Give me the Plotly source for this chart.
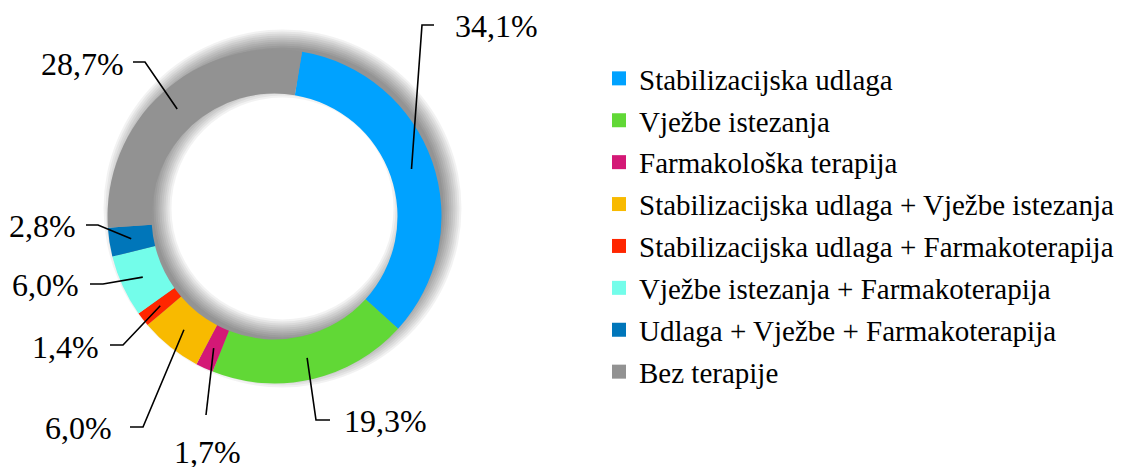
import math
import plotly.graph_objects as go

# data
categories = [
    "Stabilizacijska udlaga",
    "Vježbe istezanja",
    "Farmakološka terapija",
    "Stabilizacijska udlaga + Vježbe istezanja",
    "Stabilizacijska udlaga + Farmakoterapija",
    "Vježbe istezanja + Farmakoterapija",
    "Udlaga + Vježbe + Farmakoterapija",
    "Bez terapije",
]
percent = [34.1, 19.3, 1.7, 6.0, 1.4, 6.0, 2.8, 28.7]
colors = ["#00A2FF", "#61D836", "#D41876", "#F8BA00",
          "#FF2600", "#73FDEA", "#0076BA", "#929292"]

PAD = 8                    # page body margin
W, H = 1126 - PAD, 467 - PAD
CX, CY = 274.5, 216.5      # ring centre (screen px)
R_OUT, R_IN = 167.0, 123.0
ROT = 9.5                  # first slice starts 9.5 deg clockwise from 12 o'clock
FONT = "Times New Roman, Liberation Serif, DejaVu Serif, serif"

# label placement (screen px): text x, text y, xanchor, elbow, end of tick
label_pos = [
    (453, 26, "left", (422, 25), (434, 25)),
    (342, 421, "left", (316, 420), (330, 420)),
    (207, 452, "center", (206, 415), None),
    (114, 428, "right", (143, 427), (130, 427)),
    (101, 347, "right", (123, 345), (110, 345)),
    (81, 285, "right", (103, 284), (90, 284)),
    (78, 226, "right", (98, 225), (86, 225)),
    (126, 64, "right", (145, 62), (133, 62)),
]


def dom(cx, cy, r):
    x0, y0 = cx - PAD, cy - PAD
    return dict(x=[(x0 - r) / W, (x0 + r) / W],
                y=[1 - (y0 + r) / H, 1 - (y0 - r) / H])


fig = go.Figure()

# soft drop shadow, shifted up-right
for d in range(-6, 13, 2):
    ro = R_OUT + d
    ri = R_IN - d
    fig.add_trace(go.Pie(
        values=[1], marker=dict(colors=["rgba(0,0,0,0.05)"]),
        hole=ri / ro, domain=dom(CX + 8, CY - 8, ro),
        textinfo="none", hoverinfo="skip", showlegend=False, sort=False,
    ))

fig.add_trace(go.Pie(
    labels=categories, values=percent,
    marker=dict(colors=colors, line=dict(width=0)),
    hole=R_IN / R_OUT, domain=dom(CX, CY, R_OUT),
    sort=False, direction="clockwise", rotation=ROT,
    textinfo="none", showlegend=False,
))

# legend entries
for i, (c, col) in enumerate(zip(categories, colors)):
    fig.add_trace(go.Scatter(
        x=[None], y=[None], mode="markers", name=c, legendgroup=str(i),
        marker=dict(symbol="square", size=14, color=col),
    ))

# data labels with leader lines
total = sum(percent)
cum = 0.0
r_mid = (R_OUT + R_IN) / 2
for v, (tx, ty, xa, elbow, end) in zip(percent, label_pos):
    ang = math.radians(ROT + (cum + v / 2) / total * 360)
    cum += v
    ax = CX + r_mid * math.sin(ang)
    ay = CY - r_mid * math.cos(ang)
    path = f"M{ax},{ay} L{elbow[0]},{elbow[1]}"
    if end:
        path += f" L{end[0]},{end[1]}"
    fig.add_shape(type="path", path=path, xref="x", yref="y",
                  line=dict(color="black", width=1.6))
    fig.add_annotation(
        x=tx, y=ty, xref="x", yref="y", xanchor=xa, yanchor="middle",
        text=f"{v:.1f}".replace(".", ",") + "%", showarrow=False,
        font=dict(family=FONT, size=32, color="black"),
    )

# axes map straight to screen pixels
fig.update_xaxes(visible=False, range=[PAD, PAD + W], domain=[0, 1])
fig.update_yaxes(visible=False, range=[PAD + H, PAD], domain=[0, 1])
fig.update_layout(
    width=W, height=H,
    margin=dict(l=0, r=0, t=0, b=0),
    paper_bgcolor="white", plot_bgcolor="white",
    legend=dict(
        x=(599 - PAD) / W, y=1 - (53 - PAD) / H, xanchor="left", yanchor="top",
        font=dict(family=FONT, size=29, color="black"),
        tracegroupgap=1.2, bgcolor="rgba(0,0,0,0)",
    ),
)

fig.write_html("out.html")
